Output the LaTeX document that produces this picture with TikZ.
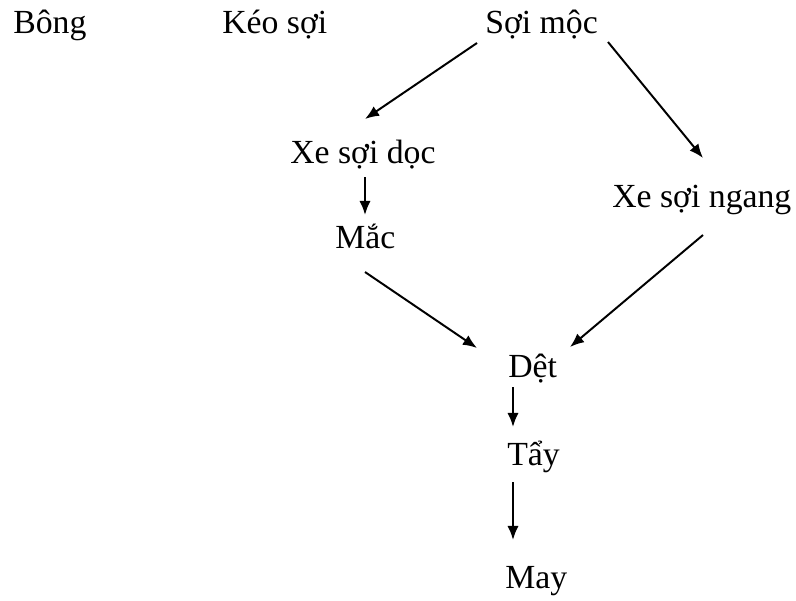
\documentclass[tikz,border=0pt]{standalone}
\usepackage{fontspec}
\setmainfont{Liberation Serif}
\usetikzlibrary{arrows.meta,calc}

\begin{document}
\begin{tikzpicture}[x=0.025cm,y=-0.025cm,
    arr/.style={draw,line width=1.4pt,-{Latex[length=10pt,width=8pt]}}]

        \useasboundingbox (0,0) rectangle (796,600);

        % steps, placed by the left end of their baseline
        \begin{scope}[every node/.style={anchor=base west,inner sep=0pt,
            font=\fontsize{24}{28}\selectfont}]
          \node (1) at (13,33)   {Bông};
          \node (2) at (222,33)  {Kéo sợi};
          \node (3) at (485,33)  {Sợi mộc};
          \node (4) at (290,163) {Xe sợi dọc};
          \node (5) at (612,207) {Xe sợi ngang};
          \node (6) at (335,248) {Mắc};
          \node (7) at (508,377) {Dệt};
          \node (8) at (507,465) {Tẩy};
          \node (9) at (505,588) {May};
        \end{scope}

        \begin{scope}[every edge/.style={arr}]
          \path ($(3.base west)+(-8,10)$) edge ($(4.base west)+(75,-44)$);
          \path ($(3.base west)+(123,9)$) edge ($(5.base west)+(91,-49)$);
          \path ($(4.base west)+(75,14)$) edge ($(6.base west)+(30,-33)$);
          \path ($(6.base west)+(30,24)$) edge ($(7.base west)+(-31,-29)$);
          \path ($(5.base west)+(91,28)$) edge ($(7.base west)+(62,-30)$);
          \path ($(7.base west)+(5,10)$)  edge ($(8.base west)+(6,-38)$);
          \path ($(8.base west)+(6,17)$)  edge ($(9.base west)+(8,-48)$);
        \end{scope}

      \end{tikzpicture}
\end{document}
